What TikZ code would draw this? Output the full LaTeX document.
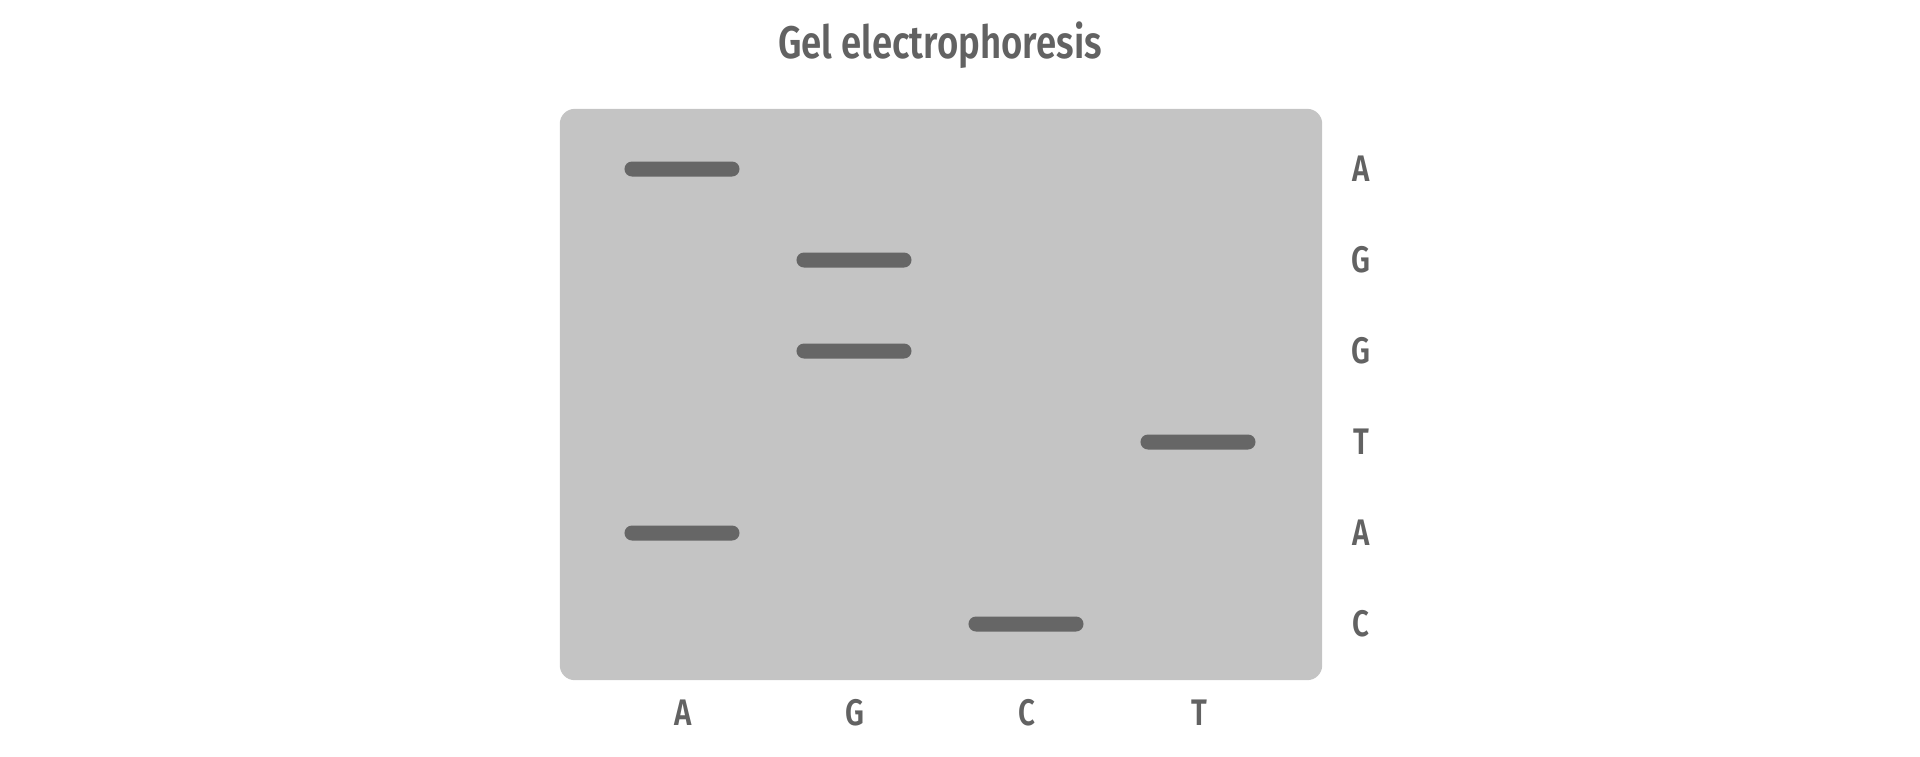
\documentclass[tikz,border=0pt]{standalone}
\usepackage{fontspec}
\setmainfont{Fira Sans}[FakeStretch=0.8, BoldFont={Fira Sans SemiBold}]
\usetikzlibrary{positioning}
\definecolor{gelGray}{HTML}{C4C4C4}
\definecolor{bandGray}{HTML}{666666}
\definecolor{labelGray}{HTML}{626262}
\tikzset{
    gel/.style={rectangle, rounded corners=0.15cm, fill=gelGray, minimum width=7.62cm, minimum height=5.71cm, inner sep=0pt},
    band/.style={rectangle, rounded corners=0.075cm, fill=bandGray, minimum width=1.15cm, minimum height=0.15cm, inner sep=0pt},
    base/.style={text=labelGray, font=\bfseries\fontsize{10.5}{12}\selectfont, inner sep=0pt},
    title/.style={text=labelGray, font=\bfseries\fontsize{13}{16}\selectfont, inner sep=0pt},
}
\begin{document}
\begin{tikzpicture}[x=0.01cm, y=-0.01cm]
    \useasboundingbox (0,0) rectangle (1920,756);
    % Title
    \node[title] (heading) at (940,45) {Gel electrophoresis};

    % Gel
    \node[gel] (gelbox) at (941,394.5) {};

    % Bands
    \node[band] (bandA1) at (682,169) {};
    \node[band] (bandG1) at (854,260) {};
    \node[band] (bandG2) at (854,351) {};
    \node[band] (bandT1) at (1198,442) {};
    \node[band] (bandA2) at (682,533) {};
    \node[band] (bandC1) at (1026,624) {};

    % Sequence read off the gel
    \node[base] (seq1) at (1361,169) {A};
    \node[base] (seq2) at (1361,260) {G};
    \node[base] (seq3) at (1361,351) {G};
    \node[base] (seq4) at (1361,442) {T};
    \node[base] (seq5) at (1361,533) {A};
    \node[base] (seq6) at (1361,624) {C};

    % Lanes
    \node[base] (laneA) at (683,713) {A};
    \node[base] (laneG) at (855,713) {G};
    \node[base] (laneC) at (1027,713) {C};
    \node[base] (laneT) at (1199,713) {T};
\end{tikzpicture}
\end{document}
